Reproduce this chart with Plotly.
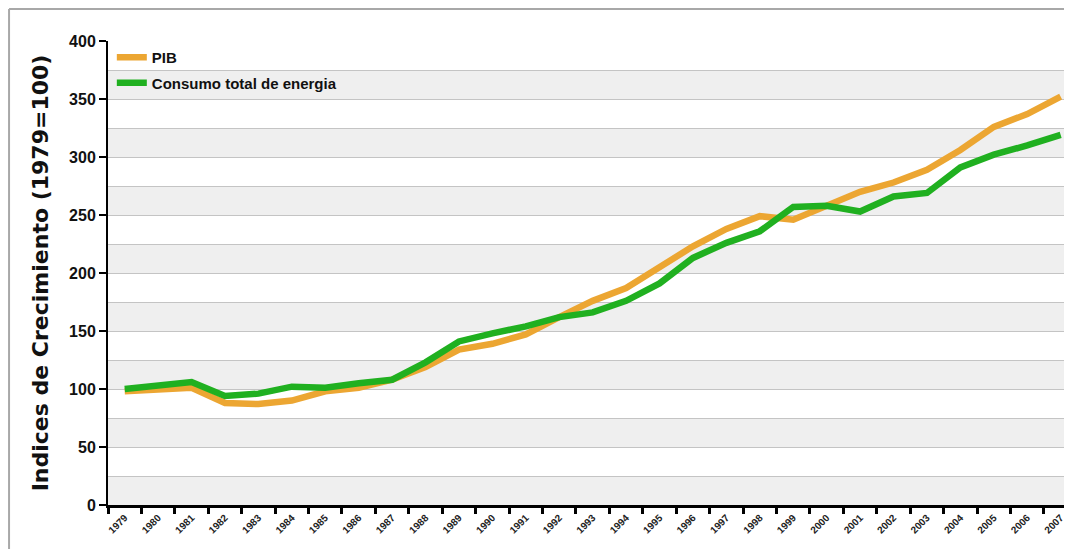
import plotly.graph_objects as go

years = [str(y) for y in range(1979, 2008)]

pib = [98, 100, 101, 88, 87, 90, 98, 101, 108, 119, 134, 139, 147, 162, 176,
       187, 205, 223, 238, 249, 246, 258, 270, 278, 289, 306, 326, 337, 352]
energia = [100, 103, 106, 94, 96, 102, 101, 105, 108, 123, 141, 148, 154, 162, 166,
           176, 191, 213, 226, 236, 257, 258, 253, 266, 269, 291, 302, 310, 319]

series_names = ["PIB", "Consumo total de energia"]
series_colors = ["#ECA632", "#20B020"]

fig = go.Figure()

for name, values, color in zip(series_names, [pib, energia], series_colors):
    fig.add_trace(
        go.Scatter(
            x=years,
            y=values,
            mode="lines",
            name=name,
            legendgroup=name,
            line=dict(color=color, width=6.5),
        )
    )

# alternating grey bands every 25 units
for lo in range(0, 400, 50):
    fig.add_shape(
        type="rect", xref="paper", yref="y",
        x0=0, x1=1, y0=lo, y1=lo + 25,
        fillcolor="#EFEFEF", line_width=0, layer="below",
    )

# outer frame of the picture (only left and top edges are visible)
frame = dict(color="#A8A8A8", width=2)
fig.add_shape(type="line", xref="paper", yref="paper",
              x0=-0.1035, x1=-0.1035, y0=-0.2, y1=1.069, line=frame)
fig.add_shape(type="line", xref="paper", yref="paper",
              x0=-0.1035, x1=1.0, y0=1.069, y1=1.069, line=frame)

# the page body adds 8px around the figure
fig.update_layout(
    width=1058,
    height=541,
    margin=dict(l=100, r=0, t=33, b=44),
    paper_bgcolor="white",
    plot_bgcolor="white",
    font=dict(family="Liberation Sans, Arial, sans-serif", color="#111111"),
    showlegend=True,
    legend=dict(
        x=0.004, y=1.0, xanchor="left", yanchor="top",
        bgcolor="rgba(0,0,0,0)",
        font=dict(size=15, color="#111111", weight="bold"),
        traceorder="grouped",
        tracegroupgap=3,
        itemwidth=30,
    ),
)

fig.update_xaxes(
    type="category",
    range=[-0.5, 28.1],
    tickson="boundaries",
    ticks="outside",
    ticklen=6,
    tickwidth=3,
    tickcolor="black",
    showline=True,
    linecolor="black",
    linewidth=3,
    showgrid=False,
    tickangle=-45,
    tickfont=dict(size=10, color="#222222", weight="bold"),
)

fig.update_yaxes(
    range=[0, 400],
    dtick=50,
    ticks="outside",
    ticklen=7,
    tickwidth=2,
    tickcolor="black",
    showline=True,
    linecolor="black",
    linewidth=2,
    showgrid=True,
    gridcolor="#C4C4C4",
    gridwidth=1,
    minor=dict(dtick=25, showgrid=True, gridcolor="#C4C4C4", gridwidth=1, ticks=""),
    zeroline=False,
    tickfont=dict(size=16, color="#111111", weight="bold"),
    title=dict(
        text="Indices de Crecimiento (1979=100)",
        font=dict(family="DejaVu Sans, sans-serif", size=22, color="#111111", weight="bold"),
        standoff=14,
    ),
)

fig.write_html("out.html")
